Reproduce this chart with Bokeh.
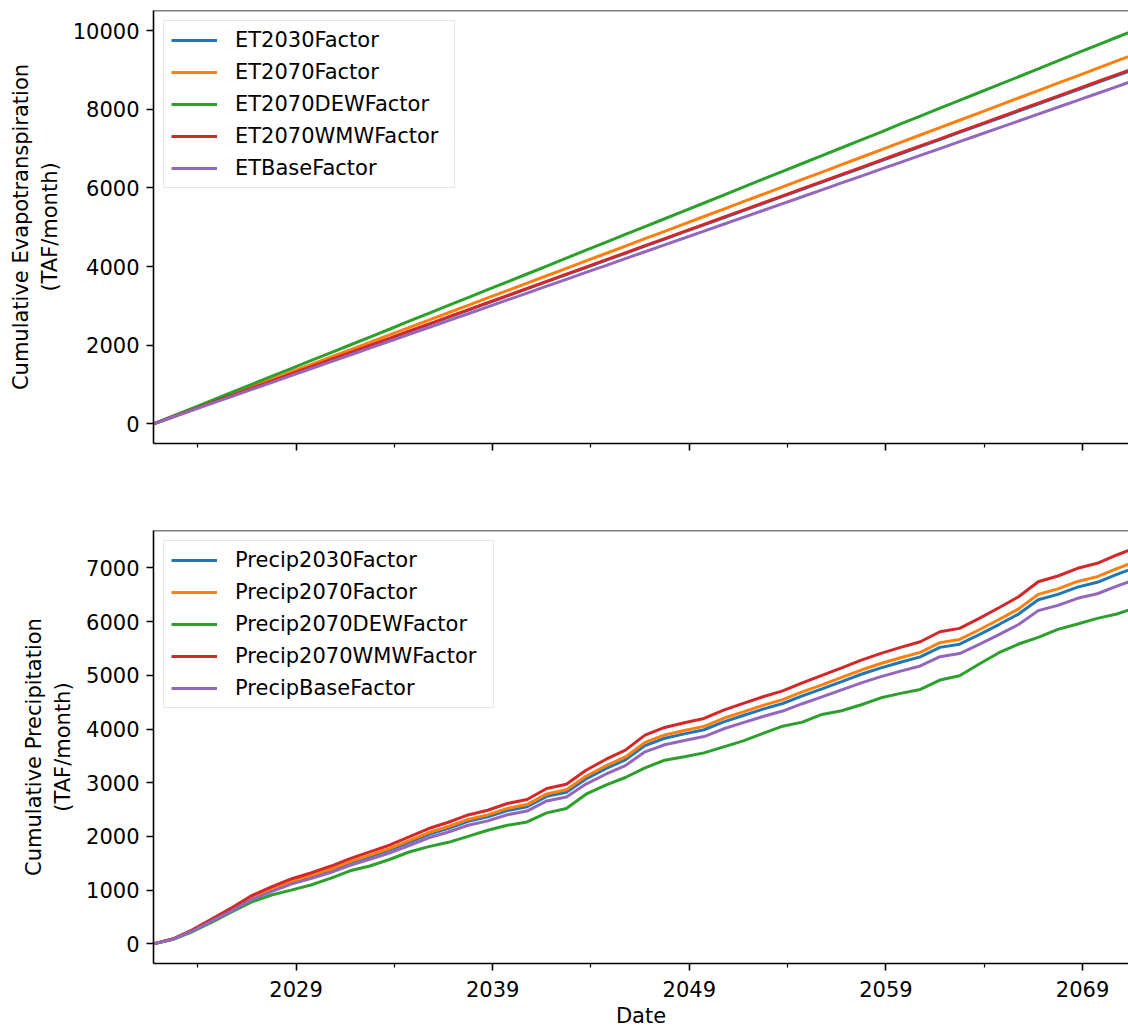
import pandas as pd
from bokeh.plotting import figure
from bokeh.models import (Range1d, FixedTicker, Span, DatetimeTickFormatter,
                          NumeralTickFormatter)
from bokeh.layouts import column
from bokeh.embed import file_html
from bokeh.resources import INLINE

# ---------------- data (cumulative values at each 1 October) ----------------
water_years = list(range(2021, 2072))
dates = pd.to_datetime([f"{y}-10-01" for y in water_years])

et_names = ["ET2030Factor", "ET2070Factor", "ET2070DEWFactor",
            "ET2070WMWFactor", "ETBaseFactor"]
et_2030 = [0, 181, 361, 542, 723, 904, 1084, 1265, 1446, 1626, 1807, 1988, 2168, 2349, 2530, 2711, 2891,
           3072, 3253, 3433, 3614, 3795, 3975, 4156, 4337, 4518, 4698, 4879, 5060, 5240, 5421, 5602, 5782,
           5963, 6144, 6325, 6505, 6686, 6867, 7047, 7228, 7409, 7589, 7770, 7951, 8132, 8312, 8493, 8674,
           8854, 9035]
et_2070 = [0, 188, 377, 565, 753, 942, 1130, 1318, 1506, 1695, 1883, 2071, 2260, 2448, 2636, 2825, 3013,
           3201, 3389, 3578, 3766, 3954, 4143, 4331, 4519, 4708, 4896, 5084, 5272, 5461, 5649, 5837, 6026,
           6214, 6402, 6591, 6779, 6967, 7155, 7344, 7532, 7720, 7909, 8097, 8285, 8474, 8662, 8850, 9038,
           9227, 9415]
et_2070_dew = [0, 200, 400, 600, 805, 1005, 1205, 1405, 1605, 1805, 2005, 2205, 2405, 2610, 2810, 3010,
               3210, 3410, 3610, 3810, 4010, 4215, 4415, 4615, 4815, 5015, 5215, 5415, 5615, 5815, 6020,
               6220, 6420, 6620, 6820, 7020, 7220, 7420, 7625, 7825, 8025, 8225, 8425, 8625, 8825, 9025,
               9230, 9430, 9630, 9830, 10030]
et_2070_wmw = [0, 181, 362, 544, 725, 906, 1087, 1268, 1450, 1631, 1812, 1993, 2174, 2356, 2537, 2718,
               2899, 3080, 3262, 3443, 3624, 3805, 3986, 4168, 4349, 4530, 4711, 4892, 5074, 5255, 5436,
               5617, 5798, 5980, 6161, 6342, 6523, 6704, 6886, 7067, 7248, 7429, 7610, 7792, 7973, 8154,
               8335, 8516, 8698, 8879, 9060]
et_base = [0, 175, 350, 525, 700, 875, 1050, 1225, 1400, 1575, 1750, 1925, 2100, 2275, 2450, 2625, 2800,
           2975, 3150, 3325, 3500, 3675, 3850, 4025, 4200, 4375, 4550, 4725, 4900, 5075, 5250, 5425, 5600,
           5775, 5950, 6125, 6300, 6475, 6650, 6825, 7000, 7175, 7350, 7525, 7700, 7875, 8050, 8225, 8400,
           8575, 8750]

pr_names = ["Precip2030Factor", "Precip2070Factor", "Precip2070DEWFactor",
            "Precip2070WMWFactor", "PrecipBaseFactor"]
pr_2030 = [0, 90, 252, 447, 640, 855, 1006, 1148, 1254, 1372, 1508, 1625, 1744, 1891, 2040, 2151, 2280,
           2364, 2482, 2553, 2747, 2823, 3071, 3261, 3426, 3692, 3828, 3909, 3986, 4134, 4252, 4370, 4475,
           4617, 4748, 4883, 5019, 5138, 5244, 5343, 5520, 5580, 5757, 5945, 6140, 6406, 6507, 6642, 6731,
           6878, 7016]
pr_2070 = [0, 92, 256, 454, 650, 869, 1022, 1166, 1274, 1393, 1531, 1651, 1772, 1920, 2072, 2185, 2316,
           2401, 2522, 2593, 2791, 2868, 3120, 3313, 3480, 3750, 3888, 3971, 4049, 4200, 4319, 4439, 4546,
           4690, 4823, 4960, 5098, 5219, 5327, 5427, 5608, 5668, 5848, 6039, 6237, 6507, 6609, 6747, 6837,
           6987, 7127]
pr_2070_dew = [0, 85, 230, 410, 600, 780, 910, 1000, 1095, 1220, 1360, 1450, 1570, 1710, 1810, 1890, 2000,
               2115, 2208, 2270, 2438, 2520, 2786, 2954, 3097, 3277, 3420, 3482, 3556, 3668, 3780, 3917,
               4053, 4128, 4271, 4339, 4451, 4581, 4663, 4737, 4911, 4991, 5209, 5420, 5582, 5706, 5855,
               5954, 6060, 6141, 6265]
pr_2070_wmw = [0, 95, 265, 470, 674, 900, 1059, 1208, 1320, 1444, 1587, 1711, 1836, 1990, 2147, 2264, 2400,
               2488, 2613, 2687, 2892, 2972, 3233, 3433, 3606, 3886, 4029, 4115, 4196, 4352, 4476, 4600,
               4711, 4860, 4998, 5140, 5283, 5408, 5520, 5624, 5811, 5874, 6060, 6258, 6463, 6743, 6849,
               6992, 7085, 7240, 7385]
pr_base = [0, 87, 244, 432, 620, 828, 974, 1111, 1214, 1328, 1460, 1574, 1689, 1831, 1975, 2083, 2208,
           2289, 2404, 2472, 2661, 2734, 2974, 3158, 3318, 3575, 3707, 3786, 3860, 4004, 4118, 4232, 4334,
           4471, 4598, 4729, 4860, 4975, 5078, 5174, 5346, 5404, 5575, 5757, 5946, 6204, 6301, 6433, 6518,
           6661, 6794]

major_years = [2029, 2039, 2049, 2059, 2069]
minor_years = [2024, 2034, 2044, 2054, 2064]

colors = ["#1f77b4", "#ff7f0e", "#2ca02c", "#d62728", "#9467bd"]
FONT = "DejaVu Sans"
FS = "21px"


def ms(s):
    return pd.Timestamp(s).value // 10**6


x_range = Range1d(ms("2021-10-01"), ms("2071-05-05"))
xticker = FixedTicker(ticks=[ms(f"{y}-01-01") for y in major_years],
                      minor_ticks=[ms(f"{y}-01-01") for y in minor_years])
fmt = DatetimeTickFormatter(microseconds="%Y", milliseconds="%Y", seconds="%Y", minsec="%Y",
                            minutes="%Y", hourmin="%Y", hours="%Y", days="%Y", months="%Y",
                            years="%Y")


def make_fig(height, border_top, border_bottom, y_start, y_end, yticks, ylabel, names, series,
             show_xlabels, label_width):
    p = figure(width=1128, height=height, x_axis_type="datetime", x_range=x_range,
               y_range=Range1d(y_start, y_end), output_backend="svg", toolbar_location=None,
               min_border_left=153, min_border_right=0, min_border_top=border_top,
               min_border_bottom=border_bottom)
    p.outline_line_color = None
    p.xgrid.visible = False
    p.ygrid.visible = False
    p.background_fill_color = "white"
    p.border_fill_color = "white"

    for name, vals, c in zip(names, series, colors):
        p.line(dates, vals, line_color=c, line_width=3, legend_label=name)

    p.add_layout(Span(location=y_end, dimension="width", line_color="black", line_width=1.6))

    for ax in (p.xaxis[0], p.yaxis[0]):
        ax.axis_line_color = "black"
        ax.axis_line_width = 1.6
        ax.major_tick_line_color = "black"
        ax.major_tick_line_width = 1.6
        ax.minor_tick_line_color = "black"
        ax.minor_tick_line_width = 1.2
        ax.major_tick_in = 0
        ax.major_tick_out = 7
        ax.minor_tick_in = 0
        ax.minor_tick_out = 4
        ax.major_label_text_font = FONT
        ax.major_label_text_font_size = FS
        ax.major_label_text_color = "black"
        ax.axis_label_text_font = FONT
        ax.axis_label_text_font_size = FS
        ax.axis_label_text_font_style = "normal"
        ax.axis_label_text_color = "black"

    xa = p.xaxis[0]
    xa.ticker = xticker
    xa.formatter = fmt
    xa.major_label_standoff = 10
    if show_xlabels:
        xa.axis_label = "Date"
        xa.axis_label_standoff = 4
    else:
        xa.major_label_text_alpha = 0

    ya = p.yaxis[0]
    ya.ticker = FixedTicker(ticks=yticks, minor_ticks=[])
    ya.formatter = NumeralTickFormatter(format="0")
    ya.axis_label = ylabel
    ya.major_label_standoff = 7
    ya.axis_label_standoff = 8

    lg = p.legend[0]
    lg.location = "top_left"
    lg.margin = 10
    lg.padding = 7
    lg.spacing = 8
    lg.glyph_width = 46
    lg.glyph_height = 24
    lg.label_height = 24
    lg.label_width = label_width
    lg.label_standoff = 18
    lg.label_text_font = FONT
    lg.label_text_font_size = FS
    lg.label_text_color = "black"
    lg.border_line_color = "#cccccc"
    lg.border_line_width = 1.5
    lg.background_fill_alpha = 0.8
    return p


p1 = make_fig(515, 10, 72, -500, 10510, [0, 2000, 4000, 6000, 8000, 10000],
              "Cumulative Evapotranspiration\n(TAF/month)", et_names,
              [et_2030, et_2070, et_2070_dew, et_2070_wmw, et_base], False, 212)
p2 = make_fig(515, 15, 67, -366, 7696, [0, 1000, 2000, 3000, 4000, 5000, 6000, 7000],
              "Cumulative Precipitation\n(TAF/month)", pr_names,
              [pr_2030, pr_2070, pr_2070_dew, pr_2070_wmw, pr_base], True, 251)

layout = column(p1, p2, spacing=0)
open("out.html", "w").write(file_html(layout, INLINE))
